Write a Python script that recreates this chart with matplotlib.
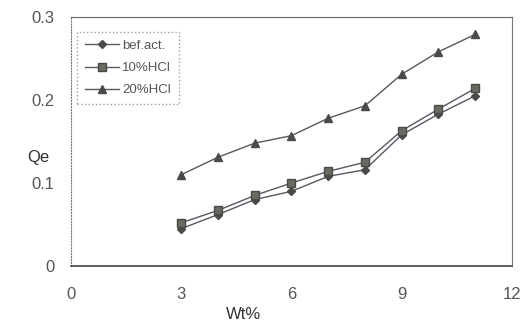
import matplotlib
matplotlib.use("Agg")
import matplotlib.pyplot as plt

wt = [3, 4, 5, 6, 7, 8, 9, 10, 11]
bef_act = [0.045, 0.062, 0.080, 0.090, 0.108, 0.116, 0.158, 0.183, 0.205]
hcl10 = [0.052, 0.067, 0.085, 0.100, 0.114, 0.125, 0.163, 0.189, 0.214]
hcl20 = [0.110, 0.131, 0.148, 0.157, 0.178, 0.193, 0.231, 0.258, 0.279]
labels = ["bef.act.", "10%HCl", "20%HCl"]
xticks = [0, 3, 6, 9, 12]
yticks = [0, 0.1, 0.2, 0.3]
yticklabels = ["0", "0.1", "0.2", "0.3"]

plt.rcParams['font.family'] = ['Liberation Sans', 'DejaVu Sans']
fig = plt.figure(figsize=(5.2, 3.26), dpi=100)
ax = fig.add_axes([0.1365, 0.184, 0.848, 0.764])

lc = '#5a5560'
mc = '#4a4a48'
ax.plot(wt, bef_act, color=lc, lw=1.0, marker='D', ms=4, mfc=mc, mec=mc, label=labels[0])
ax.plot(wt, hcl10, color=lc, lw=1.0, marker='s', ms=6, mfc='#6a6a62', mec=mc, label=labels[1])
ax.plot(wt, hcl20, color=lc, lw=1.0, marker='^', ms=5.5, mfc=mc, mec=mc, label=labels[2])

ax.set_xlim(0, 12)
ax.set_ylim(0, 0.3)
ax.set_xticks(xticks)
ax.set_yticks(yticks)
ax.set_yticklabels(yticklabels)
ax.tick_params(length=0, labelsize=12, labelcolor='#555555')
ax.tick_params(axis='x', pad=15)
ax.tick_params(axis='y', pad=12)

ax.spines['left'].set_linestyle(':')
ax.spines['left'].set_color('#777777')
ax.spines['top'].set_color('#666666')
ax.spines['right'].set_color('#777777')
ax.spines['bottom'].set_color('#444444')
ax.spines['bottom'].set_linewidth(1.2)

ax.set_ylabel("Qe", rotation=0, fontsize=12, color='#333333', va='center', ha='center')
ax.yaxis.set_label_coords(-0.075, 0.434)
ax.set_xlabel("Wt%", fontsize=12, color='#333333', va='center', ha='center')
ax.xaxis.set_label_coords(0.392, -0.195)

leg = ax.legend(loc='upper left', bbox_to_anchor=(0.014, 0.94), fontsize=9.5,
                frameon=True, fancybox=False, handlelength=2.6, handletextpad=0.2,
                borderpad=0.6, labelspacing=0.75, labelcolor='#555555',
                borderaxespad=0)
leg.get_frame().set_linestyle(':')
leg.get_frame().set_edgecolor('#888888')
leg.get_frame().set_linewidth(1.0)

fig.savefig("out.png", dpi=100)
